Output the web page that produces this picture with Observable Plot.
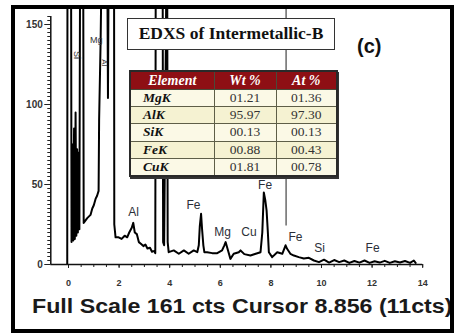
<!DOCTYPE html>
<html><head><meta charset="utf-8">
<script src="https://cdn.jsdelivr.net/npm/d3@7"></script>
<script src="https://cdn.jsdelivr.net/npm/@observablehq/plot@0.6"></script>
<style>
html,body{margin:0;padding:0;background:#fff;}
#wrap{position:relative;width:463px;height:333px;overflow:hidden;background:#fff;}
#wrap svg{position:absolute;left:0;top:0;}
#frame{position:absolute;left:11px;top:5px;width:443px;height:328px;border:4px solid #000;box-sizing:border-box;pointer-events:none;}
#title{position:absolute;left:127px;top:18px;width:208px;height:32px;box-sizing:border-box;border:1.5px solid #333;background:#fff;
 font-family:"Liberation Serif",serif;font-weight:bold;font-size:17.5px;line-height:29px;text-align:center;color:#111;}
#panel{position:absolute;left:357px;top:35px;font-family:"Liberation Sans",sans-serif;font-weight:bold;font-size:20px;color:#111;}
#foot{position:absolute;left:32px;top:297px;font-family:"Liberation Sans",sans-serif;font-weight:bold;font-size:20px;line-height:18px;color:#1a1a1a;
 white-space:nowrap;transform:scaleX(1.16);transform-origin:0 0;}
#tbl{position:absolute;left:129px;top:70px;width:207px;border-collapse:collapse;font-family:"Liberation Serif",serif;
 border:2px solid #2a2a2a;box-shadow:1px 2px 0 #333;table-layout:fixed;}
#tbl th{background:#8e0f14;color:#fff;font-style:italic;font-weight:bold;font-size:14px;height:17px;padding:0;border:1px solid #4a4a3a;line-height:14px;}
#tbl td{height:16.2px;padding:0;border:1px solid #5e5e48;font-size:13.5px;line-height:14px;}
#tbl td.el{font-weight:bold;font-style:italic;padding-left:12px;text-align:left;color:#111;}
#tbl td.v{text-align:center;color:#333;}
#tbl tr.a td{background:#fbf9e6;}
#tbl tr.b td{background:#f5f2d2;}
</style></head><body><div id="wrap"></div><script>
// spectrum (energy keV, counts); 200 = off-scale, clipped at the top
const energy = [-0.05,-0.04,0.10,0.12,0.16,0.19,0.22,0.25,0.28,0.31,0.34,0.37,0.40,0.43,0.46,0.58,0.60,0.74,0.87,0.94,1.00,1.07,1.13,1.19,1.21,1.27,1.32,1.53,1.56,1.59,1.80,1.81,1.86,1.98,2.10,2.22,2.32,2.40,2.50,2.56,2.62,2.70,2.78,2.86,2.96,3.04,3.12,3.22,3.30,3.40,3.43,3.45,3.72,3.74,3.78,3.88,3.90,3.92,3.96,4.16,4.36,4.56,4.75,4.95,5.09,5.15,5.19,5.24,5.28,5.33,5.37,5.48,5.68,5.88,6.07,6.16,6.21,6.30,6.40,6.53,6.73,6.80,6.95,7.19,7.40,7.59,7.66,7.72,7.78,7.83,7.88,7.92,8.05,8.25,8.45,8.58,8.64,8.77,8.91,9.10,9.30,9.50,9.70,9.90,10.10,10.30,10.50,10.70,10.90,11.10,11.30,11.50,11.70,11.90,12.10,12.30,12.50,12.70,12.90,13.10,13.30,13.50,13.65,13.72];
const counts = [0,200,200,14,75,15,85,16,95,18,72,20,70,22,200,200,26,29,31,35,37,41,43,46,90,140,200,200,104,200,200,25,17,17,16,18,17,20,23,26,20,19,14,13,11.5,12.5,10,10.5,8,8.5,7,200,200,14,12,200,200,14,7.7,8.8,6.7,8.8,6.7,8.8,7.7,12,24,31.7,22,12,7.7,7.7,7.1,7.1,8.8,12,14,9,3.5,6.7,7.7,8.8,6.5,5.6,6.7,7.7,20,45,40,33.7,20,7.7,4.6,7.7,6.7,12,9.8,6.7,5.6,4.6,3.8,4.2,2.5,1.5,3,1.2,2.8,1.5,2.5,1,2.2,1.2,2.5,1,2,1.2,2.3,1,2,1.3,2.2,1,2.5,1];
// cursor marker
const cursorKeV = 8.6, cursorLow = 24;
// peak labels
const peakNames = ["Al","Fe","Mg","Cu","Fe","Fe","Si","Fe"];
const peakKeV = [2.57,4.94,6.09,7.13,7.77,8.97,9.92,12.02];
const peakCounts = [32.5,36.9,20,20,49.4,16.9,10,10];
const topNames = ["Si","Mg","Al"];
const topKeV = [0.32,1.10,1.42];
const topCounts = [131,140,126];
// axis ticks
const xMajor = [0,2,4,6,8,10,12,14];
const xMinor = d3.range(0, 14.01, 0.5);
const yMajor = [0,50,100,150];
const yMinor = d3.range(0, 155.1, 2.5);
// table
const elements = ["MgK","AlK","SiK","FeK","CuK"];
const wtPct = ["01.21","95.97","00.13","00.88","01.81"];
const atPct = ["01.36","97.30","00.13","00.43","00.78"];
const headers = ["Element","Wt %","At %"];

const spectrum = energy.map((e,i)=>({keV:e, counts:counts[i]}));
const peaks = peakNames.map((n,i)=>({n, x:peakKeV[i], y:peakCounts[i]}));
const tops = topNames.map((n,i)=>({n, x:topKeV[i], y:topCounts[i]}));

const chart = Plot.plot({
  width: 463, height: 333,
  marginLeft: 50.29, marginRight: 40.8, marginTop: 8, marginBottom: 69,
  x: {domain: [-0.7, 14], label: null},
  y: {domain: [0, 160], label: null},
  style: {fontFamily: "Liberation Sans, sans-serif", background: "transparent", color: "#222"},
  marks: [
    Plot.axisY({ticks: yMinor, tickSize: 3, tickFormat: () => "", label: null, stroke: "#222"}),
    Plot.axisY({ticks: yMajor, tickSize: 6, tickPadding: 2, fontSize: 10, fontWeight: "bold", label: null, stroke: "#222", fill: "#333"}),
    Plot.axisX({ticks: xMinor, tickSize: 3, tickFormat: () => "", label: null, stroke: "#222"}),
    Plot.axisX({ticks: xMajor, tickSize: 4, tickPadding: 11, fontSize: 9, fontWeight: "bold", label: null, stroke: "#222", fill: "#333"}),
    Plot.ruleY([0], {x1: -0.7, x2: 14, stroke: "#111", strokeWidth: 1.5}),
    Plot.ruleX([-0.7], {y1: 0, y2: 155, stroke: "#111", strokeWidth: 1.5}),
    Plot.ruleX([cursorKeV], {y1: cursorLow, y2: 160, stroke: "#444", strokeWidth: 1.2}),
    Plot.line(spectrum, {x: "keV", y: "counts", stroke: "#000", strokeWidth: 2, clip: true, curve: "linear"}),
    Plot.text(peaks, {x: "x", y: "y", text: "n", fontSize: 12, fill: "#2b2f38"}),
    Plot.text(tops.slice(0,1), {x: "x", y: "y", text: "n", fontSize: 9, fill: "#333", rotate: 90}),
    Plot.text(tops.slice(1,2), {x: "x", y: "y", text: "n", fontSize: 9, fill: "#333"}),
    Plot.text(tops.slice(2), {x: "x", y: "y", text: "n", fontSize: 8, fill: "#333", rotate: 90})
  ]
});

const wrap = document.getElementById("wrap");
wrap.appendChild(chart);

const title = document.createElement("div");
title.id = "title"; title.textContent = "EDXS of Intermetallic-B";
wrap.appendChild(title);

const tbl = document.createElement("table");
tbl.id = "tbl";
const cg = document.createElement("colgroup");
[84,62,61].forEach(w=>{const c=document.createElement("col"); c.style.width=w+"px"; cg.appendChild(c);});
tbl.appendChild(cg);
const hr = document.createElement("tr");
headers.forEach(h=>{const th=document.createElement("th"); th.textContent=h; hr.appendChild(th);});
tbl.appendChild(hr);
elements.forEach((el,i)=>{
  const tr=document.createElement("tr"); tr.className = i%2===0 ? "a" : "b";
  const c1=document.createElement("td"); c1.className="el"; c1.textContent=el;
  const c2=document.createElement("td"); c2.className="v"; c2.textContent=wtPct[i];
  const c3=document.createElement("td"); c3.className="v"; c3.textContent=atPct[i];
  tr.append(c1,c2,c3); tbl.appendChild(tr);
});
wrap.appendChild(tbl);

const panel = document.createElement("div");
panel.id = "panel"; panel.textContent = "(c)";
wrap.appendChild(panel);

const foot = document.createElement("div");
foot.id = "foot"; foot.textContent = "Full Scale 161 cts Cursor 8.856 (11cts)";
wrap.appendChild(foot);

const frame = document.createElement("div");
frame.id = "frame";
wrap.appendChild(frame);
</script></body></html>
